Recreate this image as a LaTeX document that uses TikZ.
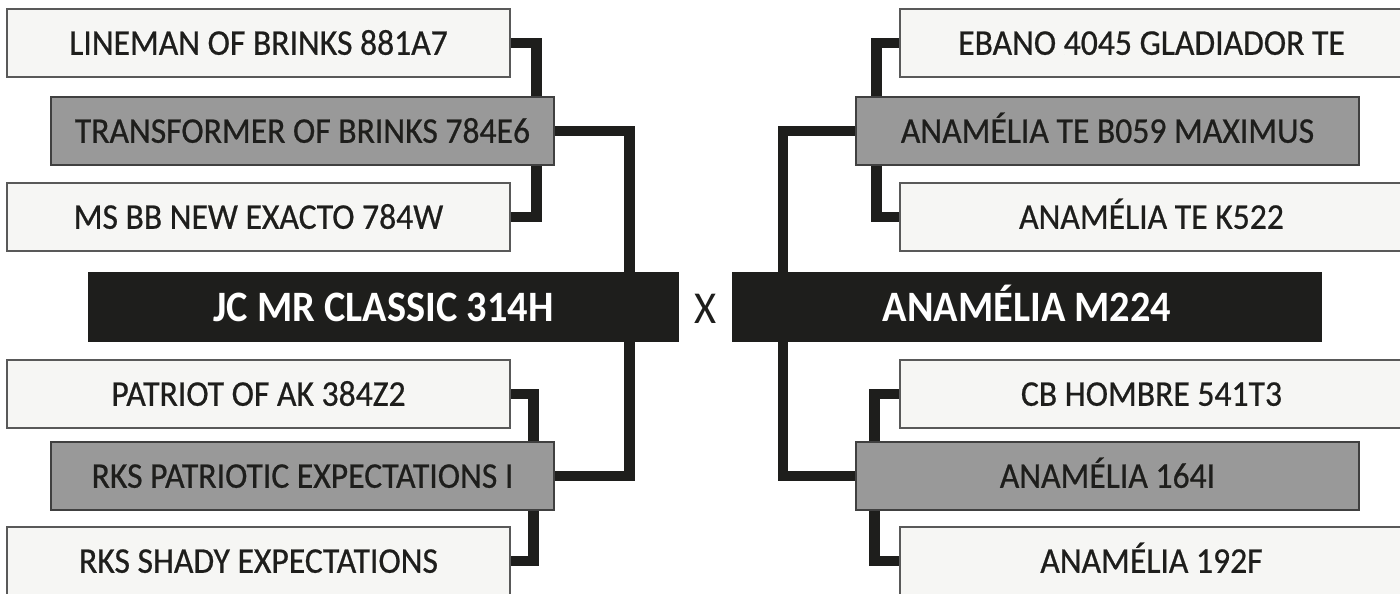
\documentclass[tikz,border=0pt]{standalone}
\usepackage{fontspec}
\setmainfont{Carlito}[FakeStretch=0.93]
\newfontfamily\pedmed{Carlito}[FakeStretch=0.93, FakeBold=0.6]
\usepackage{xcolor}
\definecolor{pInk}{HTML}{1E1E1C}
\definecolor{pLight}{HTML}{F6F6F4}
\definecolor{pGray}{HTML}{999999}
\usetikzlibrary{
  positioning,
  calc,
  backgrounds
}
\tikzset{
  pedbox/.style={
    draw=black!65,
    fill=pLight,
    line width=0.8pt,
    minimum width=10.06cm,
    minimum height=1.36cm,
    inner sep=0pt,
    text height=0.47cm,
    text depth=0pt,
    text=pInk,
    font=\pedmed\fontsize{20.6}{20.6}\selectfont
  },
  pedboxmid/.style={
    pedbox,
    draw=black!75,
    fill=pGray
  },
  pedmain/.style={
    draw=none,
    fill=pInk,
    minimum width=11.82cm,
    minimum height=1.4cm,
    inner sep=0pt,
    text height=0.56cm,
    text depth=0pt,
    text=white,
    font=\bfseries\fontsize{24.7}{24.7}\selectfont
  },
  pedlink/.style={
    draw=pInk,
    line width=6pt
  }
}

\begin{document}
\begin{tikzpicture}[x=0.02cm, y=-0.02cm]
  \useasboundingbox (0,0) rectangle (1400,593);
  % sire side
  \node[pedbox]    (s1)   at (258.5,43)  {LINEMAN OF BRINKS 881A7};
  \node[pedboxmid] (s2)   at (302.5,131) {TRANSFORMER OF BRINKS 784E6};
  \node[pedbox]    (s3)   at (258.5,217) {MS BB NEW EXACTO 784W};
  \node[pedmain]   (sire) at (383.5,307) {JC MR CLASSIC 314H};
  \node[pedbox]    (s5)   at (258.5,394) {PATRIOT OF AK 384Z2};
  \node[pedboxmid] (s6)   at (302.5,476) {RKS PATRIOTIC EXPECTATIONS I};
  \node[pedbox]    (s7)   at (258.5,561) {RKS SHADY EXPECTATIONS};
  % dam side
  \node[pedbox]    (d1)   at (1151.5,43)  {EBANO 4045 GLADIADOR TE};
  \node[pedboxmid] (d2)   at (1107.5,131) {ANAMÉLIA TE B059 MAXIMUS};
  \node[pedbox]    (d3)   at (1151.5,217) {ANAMÉLIA TE K522};
  \node[pedmain]   (dam)  at (1027,307)   {ANAMÉLIA M224};
  \node[pedbox]    (d5)   at (1151.5,394) {CB HOMBRE 541T3};
  \node[pedboxmid] (d6)   at (1107.5,476) {ANAMÉLIA 164I};
  \node[pedbox]    (d7)   at (1151.5,561) {ANAMÉLIA 192F};
  \node[text=pInk, inner sep=0pt, text height=0.62cm, text depth=0pt,
    font=\fontsize{26}{26}\selectfont] (cross) at (705.5,307.5) {X};
  \begin{scope}[on background layer]
    \fill[white] (0,0) rectangle (1400,593);
    \draw[pedlink] (s1.east) -- ++(26,0) |- (s3.east);
    \draw[pedlink] (s2.east) -| ($(sire.north east)+(-50,0)$);
    \draw[pedlink] ($(sire.south east)+(-50,0)$) |- (s6.east);
    \draw[pedlink] (s5.east) -- ++(23,0) |- (s7.east);
    \draw[pedlink] (d1.west) -- ++(-23,0) |- (d3.west);
    \draw[pedlink] (d2.west) -| ($(dam.north west)+(52,0)$);
    \draw[pedlink] ($(dam.south west)+(52,0)$) |- (d6.west);
    \draw[pedlink] (d5.west) -- ++(-25,0) |- (d7.west);
  \end{scope}
\end{tikzpicture}
\end{document}
